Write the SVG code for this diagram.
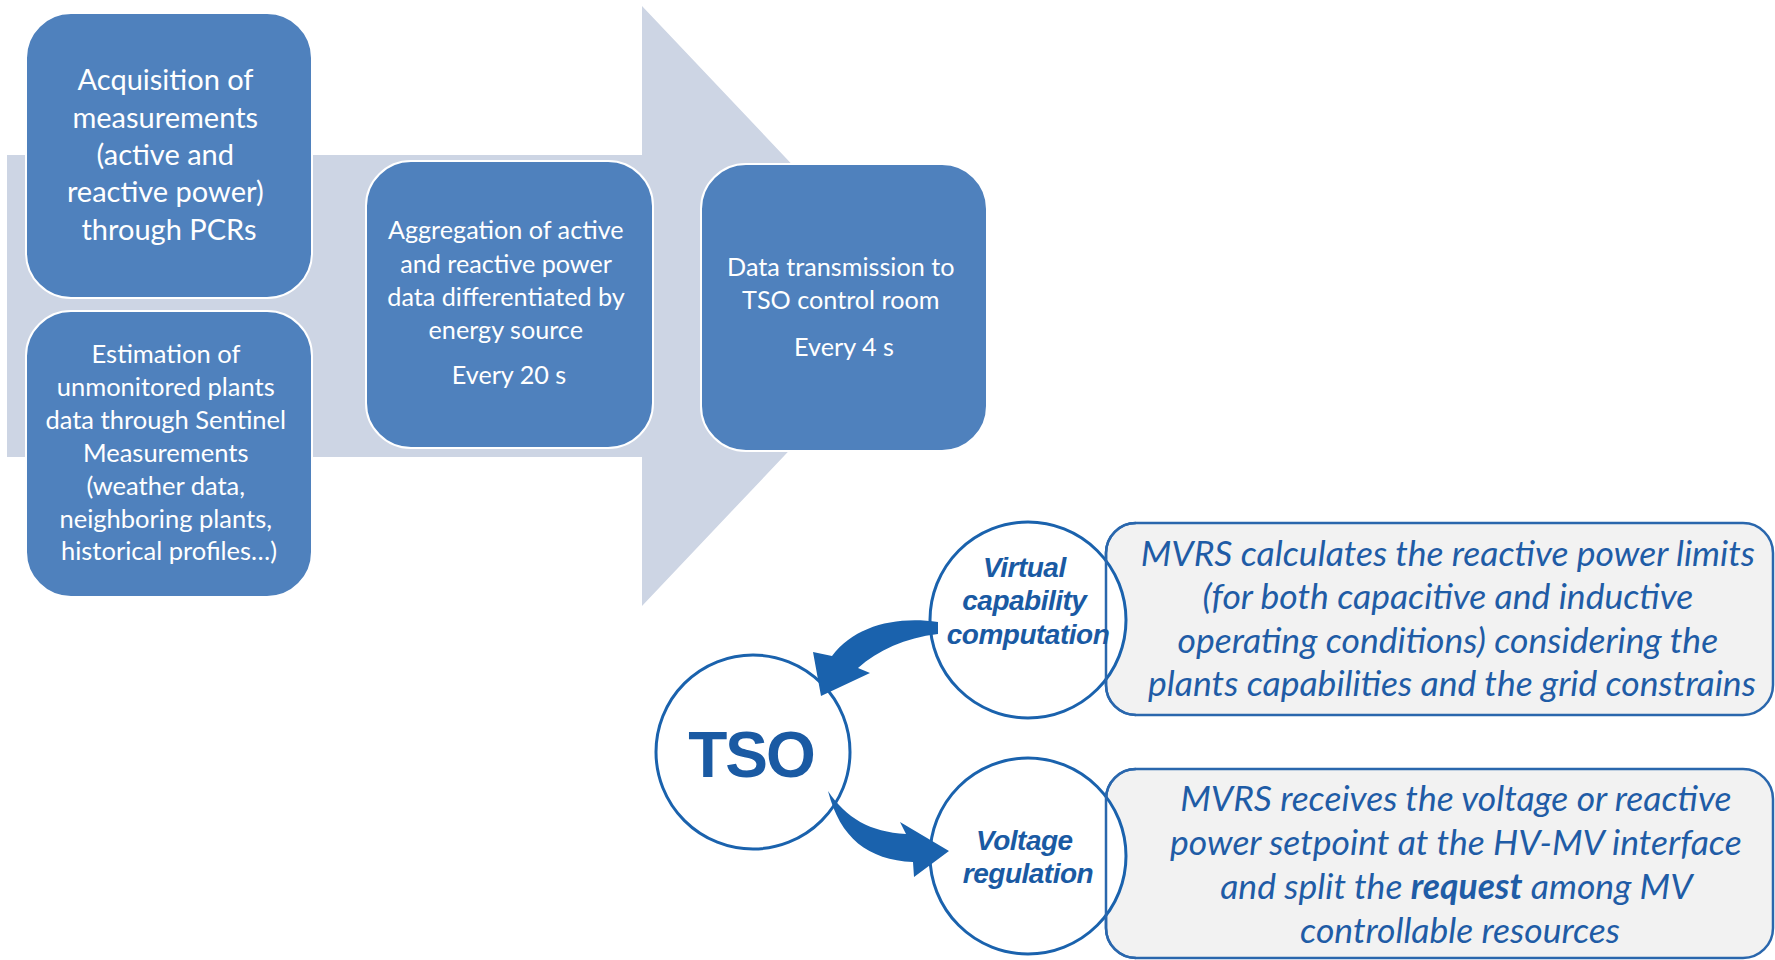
<svg xmlns="http://www.w3.org/2000/svg" width="1775" height="960" viewBox="0 0 1775 960">
  <style>
    .step { fill: #4f81bd; stroke: #ffffff; stroke-width: 2; }
    .steptxt { font-family: Lato, "Open Sans", sans-serif; fill: #ffffff; text-anchor: middle; }
    .ring { fill: #ffffff; stroke: #1a62ad; stroke-width: 3; }
    .ringtxt { font-family: "Liberation Sans", Arial, sans-serif; font-weight: bold; font-style: italic; fill: #1a5aa3; text-anchor: middle; font-size: 28px; letter-spacing: -0.5px; }
    .note { fill: #f2f2f2; stroke: #2a67ad; stroke-width: 2.5; }
    .noteline { fill: none; stroke: #2a67ad; stroke-width: 2.5; }
    .notetxt { font-family: Lato, "Open Sans", sans-serif; font-style: italic; fill: #1f5ca6; text-anchor: middle; font-size: 35.5px; }
    .flow { fill: #1a62ad; }
  </style>

  <rect width="1775" height="960" fill="#ffffff"/>

  <!-- big background arrow -->
  <g id="backdrop-arrow">
    <polygon points="7,155 642,155 642,6 926,306 642,606 642,457 7,457" fill="#cdd5e4"/>
  </g>

  <g id="step-acquisition">
    <rect class="step" x="26" y="13" width="286" height="285" rx="45"/>
    <text class="steptxt" font-size="29">
      <tspan x="169" y="90">Acquisition of</tspan>
      <tspan x="169" y="128">measurements</tspan>
      <tspan x="169" y="165">(active and</tspan>
      <tspan x="169" y="202">reactive power)</tspan>
      <tspan x="169" y="240">through PCRs</tspan>
    </text>
  </g>

  <g id="step-estimation">
    <rect class="step" x="26" y="311" width="286" height="286" rx="45"/>
    <text class="steptxt" font-size="25.5">
      <tspan x="169" y="363">Estimation of</tspan>
      <tspan x="169" y="396">unmonitored plants</tspan>
      <tspan x="169" y="429">data through Sentinel</tspan>
      <tspan x="169" y="462">Measurements</tspan>
      <tspan x="169" y="495">(weather data,</tspan>
      <tspan x="169" y="528">neighboring plants,</tspan>
      <tspan x="169" y="560">historical profiles…)</tspan>
    </text>
  </g>

  <g id="step-aggregation">
    <rect class="step" x="366" y="161" width="287" height="287" rx="45"/>
    <text class="steptxt" font-size="25.2">
      <tspan x="509" y="239">Aggregation of active</tspan>
      <tspan x="509" y="273">and reactive power</tspan>
      <tspan x="509" y="306">data differentiated by</tspan>
      <tspan x="509" y="339">energy source</tspan>
      <tspan x="509" y="384">Every 20 s</tspan>
    </text>
  </g>

  <g id="step-transmission">
    <rect class="step" x="701" y="164" width="286" height="287" rx="45"/>
    <text class="steptxt" font-size="25.2">
      <tspan x="844" y="276">Data transmission to</tspan>
      <tspan x="844" y="309">TSO control room</tspan>
      <tspan x="844" y="356">Every 4 s</tspan>
    </text>
  </g>

  <!-- description panels -->
  <g id="note-capability">
    <rect class="note" x="1106" y="523" width="667" height="192" rx="30"/>
    <text class="notetxt">
      <tspan x="1452" y="566">MVRS calculates the reactive power limits</tspan>
      <tspan x="1452" y="609">(for both capacitive and inductive</tspan>
      <tspan x="1452" y="653">operating conditions) considering the</tspan>
      <tspan x="1452" y="696">plants capabilities and the grid constrains</tspan>
    </text>
  </g>

  <g id="note-regulation">
    <rect class="note" x="1106" y="769" width="667" height="189" rx="30"/>
    <text class="notetxt">
      <tspan x="1460" y="811">MVRS receives the voltage or reactive</tspan>
      <tspan x="1460" y="855">power setpoint at the HV-MV interface</tspan>
      <tspan x="1460" y="899">and split the <tspan font-weight="bold">request</tspan> among MV</tspan>
      <tspan x="1460" y="943">controllable resources</tspan>
    </text>
  </g>

  <g id="tso">
    <circle class="ring" cx="753" cy="752" r="97"/>
    <text x="751" y="777" font-family="Liberation Sans, Arial, sans-serif" font-weight="bold" font-size="64" fill="#1a5aa3" text-anchor="middle" letter-spacing="-2">TSO</text>
  </g>

  <g id="virtual-capability">
    <circle class="ring" cx="1028" cy="620" r="98"/>
    <path class="noteline" d="M1136,523 A30,30 0 0 0 1106,553 L1106,685 A30,30 0 0 0 1136,715"/>
    <text class="ringtxt">
      <tspan x="1028" y="577">Virtual</tspan>
      <tspan x="1028" y="610">capability</tspan>
      <tspan x="1028" y="644">computation</tspan>
    </text>
  </g>

  <g id="voltage-regulation">
    <circle class="ring" cx="1028" cy="856" r="98"/>
    <path class="noteline" d="M1136,769 A30,30 0 0 0 1106,799 L1106,928 A30,30 0 0 0 1136,958"/>
    <text class="ringtxt">
      <tspan x="1028" y="850">Voltage</tspan>
      <tspan x="1028" y="883">regulation</tspan>
    </text>
  </g>

  <!-- curved connectors -->
  <g id="connectors">
    <path class="flow" d="M938,622 C895,616 855,626 832,656 L813,652 L821,696 L870,673 L858,668 C878,650 905,638 938,634 Z"/>
    <path class="flow" d="M828,791 C846,818 870,832 906,834 L900,822 L949,851 L914,877 L913,862 C868,860 840,838 828,791 Z"/>
  </g>
</svg>
